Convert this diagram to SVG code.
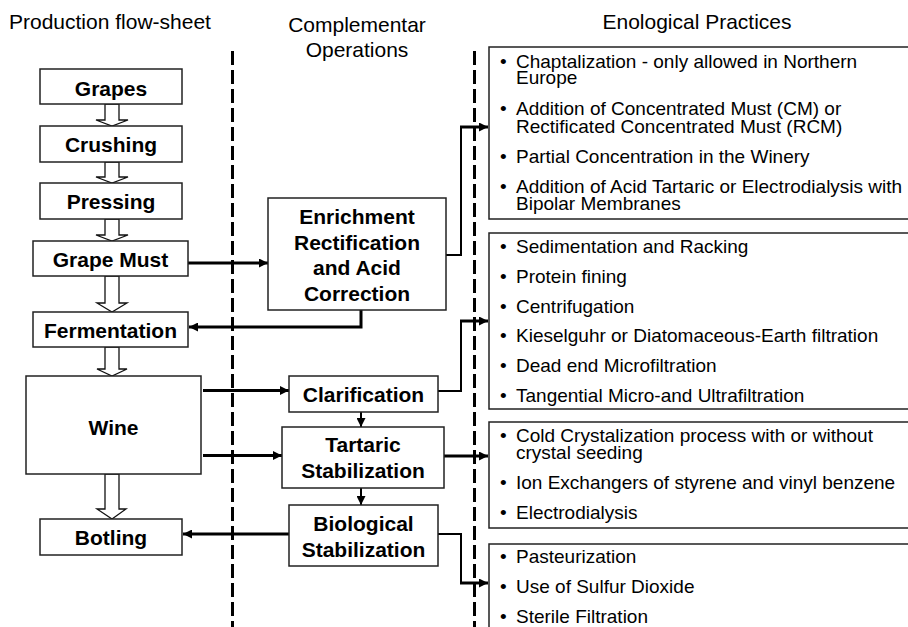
<svg xmlns="http://www.w3.org/2000/svg" width="908" height="627" viewBox="0 0 908 627">
<style>
text{font-family:"Liberation Sans",Arial,sans-serif;fill:#000}
.h{font-size:21px}
.b{font-size:21px;font-weight:bold;text-anchor:middle}
.t{font-size:19px}
.box{fill:#fff;stroke:#222;stroke-width:1.5}
.ho{fill:#fff;stroke:#111;stroke-width:1.3;stroke-linejoin:miter}
.dash{stroke:#000;stroke-width:3;stroke-dasharray:14 5;fill:none}
.c{fill:none;stroke:#000;stroke-width:3}
.c2{fill:none;stroke:#000;stroke-width:2}
</style>
<defs>
<marker id="ah" viewBox="0 0 10 10" refX="10" refY="5" markerWidth="9" markerHeight="9" markerUnits="userSpaceOnUse" orient="auto">
<path d="M0,0 L10,5 L0,10 z" fill="#000"/>
</marker>
</defs>
<rect width="908" height="627" fill="#fff"/>
<g id="headers">
<text class="h" x="9" y="29">Production flow-sheet</text>
<text class="h" x="357" y="32" text-anchor="middle">Complementar</text>
<text class="h" x="357" y="57" text-anchor="middle">Operations</text>
<text class="h" x="697" y="29" text-anchor="middle">Enological Practices</text>
</g>
<g id="dividers">
<line class="dash" x1="232.5" y1="51" x2="232.5" y2="627"/>
<line class="dash" x1="474.5" y1="51" x2="474.5" y2="627"/>
</g>
<g id="flow-arrows">
<polygon class="ho" points="105,104 119,104 119,120 128,120 112,126 96,120 105,120"/>
<polygon class="ho" points="105,162 119,162 119,177 128,177 112,183 96,177 105,177"/>
<polygon class="ho" points="105,219 119,219 119,235 128,235 112,241 96,235 105,235"/>
<polygon class="ho" points="105,276 119,276 119,303 127,303 112,312 97,303 105,303"/>
<polygon class="ho" points="105,347 119,347 119,369 127,369 112,376 97,369 105,369"/>
<polygon class="ho" points="105,474 119,474 119,509 126,509 112,519 97,509 105,509"/>
</g>
<g id="connectors">
<path class="c" d="M188,263 H268" marker-end="url(#ah)"/>
<path class="c" d="M361,310 V327 H189" marker-end="url(#ah)"/>
<path class="c" d="M203,390.5 H289" marker-end="url(#ah)"/>
<path class="c" d="M203,455.5 H282" marker-end="url(#ah)"/>
<path class="c2" d="M361,412 V427" marker-end="url(#ah)"/>
<path class="c2" d="M361,488 V505" marker-end="url(#ah)"/>
<path class="c" d="M289,534 H183" marker-end="url(#ah)"/>
<path class="c2" d="M446,255 H461 V127"/>
<path class="c" d="M460,127 H488" marker-end="url(#ah)"/>
<path class="c2" d="M438,391 H461 V321"/>
<path class="c" d="M460,321 H488" marker-end="url(#ah)"/>
<path class="c" d="M444,456 H488" marker-end="url(#ah)"/>
<path class="c2" d="M438,534 H461 V583"/>
<path class="c" d="M460,583 H488" marker-end="url(#ah)"/>
</g>
<g id="grapes"><rect class="box" x="40" y="69" width="142" height="35"/><text class="b" x="111" y="96">Grapes</text></g>
<g id="crushing"><rect class="box" x="40" y="126" width="142" height="36"/><text class="b" x="111" y="152">Crushing</text></g>
<g id="pressing"><rect class="box" x="40" y="183" width="142" height="36"/><text class="b" x="111" y="209">Pressing</text></g>
<g id="grape-must"><rect class="box" x="33" y="241" width="155" height="35"/><text class="b" x="110.5" y="267">Grape Must</text></g>
<g id="fermentation"><rect class="box" x="33" y="312" width="155" height="35"/><text class="b" x="110.5" y="338">Fermentation</text></g>
<g id="wine"><rect class="box" x="26" y="376" width="175" height="98"/><text class="b" x="113.5" y="435">Wine</text></g>
<g id="botling"><rect class="box" x="40" y="519" width="142" height="36"/><text class="b" x="111" y="545">Botling</text></g>
<g id="enrichment"><rect class="box" x="268" y="198" width="178" height="112"/>
<text class="b" x="357" y="224">Enrichment</text>
<text class="b" x="357" y="249.5">Rectification</text>
<text class="b" x="357" y="275">and Acid</text>
<text class="b" x="357" y="301">Correction</text></g>
<g id="clarification"><rect class="box" x="289" y="376" width="149" height="36"/><text class="b" x="363.5" y="402">Clarification</text></g>
<g id="tartaric"><rect class="box" x="282" y="427" width="162" height="61"/>
<text class="b" x="363" y="452">Tartaric</text><text class="b" x="363" y="478">Stabilization</text></g>
<g id="biological"><rect class="box" x="289" y="505" width="149" height="61"/>
<text class="b" x="363.5" y="531">Biological</text><text class="b" x="363.5" y="557">Stabilization</text></g>
<g id="practices-enrichment"><rect class="box" x="489" y="47" width="430" height="172"/>
<text class="t" x="500" y="68">•</text><text class="t" x="516" y="68">Chaptalization - only allowed in Northern</text>
<text class="t" x="516" y="84">Europe</text>
<text class="t" x="500" y="115">•</text><text class="t" x="516" y="115">Addition of Concentrated Must (CM) or</text>
<text class="t" x="516" y="133">Rectificated Concentrated Must (RCM)</text>
<text class="t" x="500" y="163">•</text><text class="t" x="516" y="163">Partial Concentration in the Winery</text>
<text class="t" x="500" y="193">•</text><text class="t" x="516" y="193">Addition of Acid Tartaric or Electrodialysis with</text>
<text class="t" x="516" y="210">Bipolar Membranes</text></g>
<g id="practices-clarification"><rect class="box" x="489" y="233" width="430" height="176"/>
<text class="t" x="500" y="253">•</text><text class="t" x="516" y="253">Sedimentation and Racking</text>
<text class="t" x="500" y="283">•</text><text class="t" x="516" y="283">Protein fining</text>
<text class="t" x="500" y="313">•</text><text class="t" x="516" y="313">Centrifugation</text>
<text class="t" x="500" y="342">•</text><text class="t" x="516" y="342">Kieselguhr or Diatomaceous-Earth filtration</text>
<text class="t" x="500" y="372">•</text><text class="t" x="516" y="372">Dead end Microfiltration</text>
<text class="t" x="500" y="402">•</text><text class="t" x="516" y="402">Tangential Micro-and Ultrafiltration</text></g>
<g id="practices-tartaric"><rect class="box" x="489" y="422" width="430" height="106"/>
<text class="t" x="500" y="442">•</text><text class="t" x="516" y="442">Cold Crystalization process with or without</text>
<text class="t" x="516" y="459">crystal seeding</text>
<text class="t" x="500" y="489">•</text><text class="t" x="516" y="489">Ion Exchangers of styrene and vinyl benzene</text>
<text class="t" x="500" y="519">•</text><text class="t" x="516" y="519">Electrodialysis</text></g>
<g id="practices-biological"><rect class="box" x="489" y="544" width="430" height="100"/>
<text class="t" x="500" y="563">•</text><text class="t" x="516" y="563">Pasteurization</text>
<text class="t" x="500" y="593">•</text><text class="t" x="516" y="593">Use of Sulfur Dioxide</text>
<text class="t" x="500" y="623">•</text><text class="t" x="516" y="623">Sterile Filtration</text></g>
</svg>
